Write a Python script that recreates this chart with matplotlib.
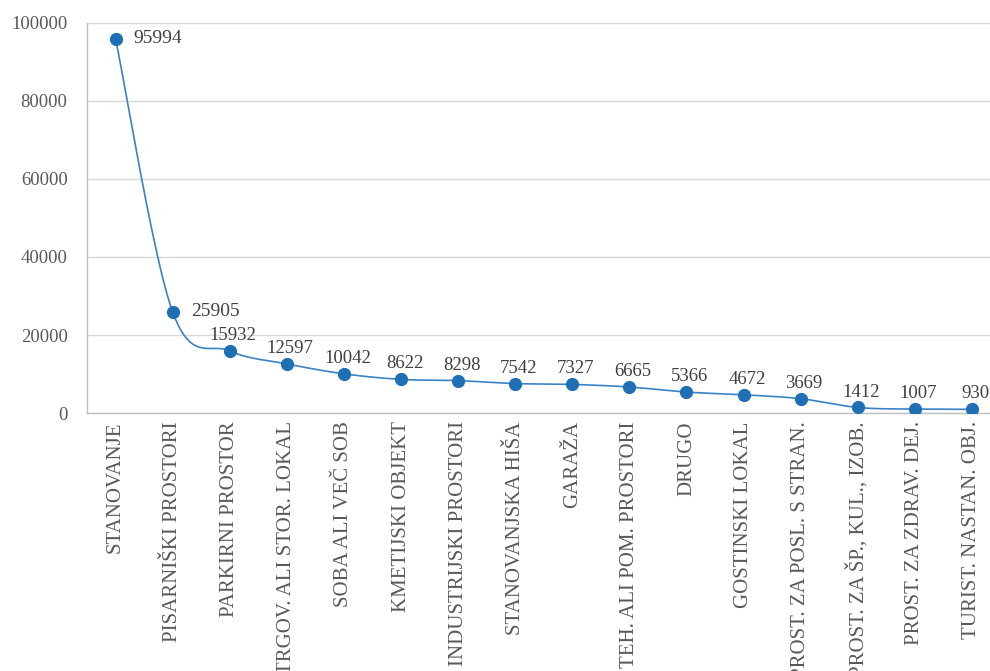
import numpy as np
import matplotlib
matplotlib.use("Agg")
import matplotlib.pyplot as plt

categories = [
    "STANOVANJE", "PISARNIŠKI PROSTORI", "PARKIRNI PROSTOR",
    "TRGOV. ALI STOR. LOKAL", "SOBA ALI VEČ SOB", "KMETIJSKI OBJEKT",
    "INDUSTRIJSKI PROSTORI", "STANOVANJSKA HIŠA", "GARAŽA",
    "TEH. ALI POM. PROSTORI", "DRUGO", "GOSTINSKI LOKAL",
    "PROST. ZA POSL. S STRAN.", "PROST. ZA ŠP., KUL., IZOB.",
    "PROST. ZA ZDRAV. DEJ.", "TURIST. NASTAN. OBJ.",
]
values = [95994, 25905, 15932, 12597, 10042, 8622, 8298, 7542, 7327,
          6665, 5366, 4672, 3669, 1412, 1007, 930]
y_ticks = [0, 20000, 40000, 60000, 80000, 100000]

plt.rcParams["font.family"] = ["Liberation Serif", "DejaVu Serif"]
text_color = "#595959"
line_color = "#3b82c4"
marker_color = "#1f6fb5"
grid_color = "#d9d9d9"

fig = plt.figure(figsize=(9.9, 6.71), dpi=100)
ax = fig.add_axes([87 / 990, 258 / 671, 913.5 / 990, 390 / 671])

x = np.arange(len(values), dtype=float)
y = np.array(values, dtype=float)


def smooth_curve(xs, ys, steps=40):
    # Bezier segments with Catmull-Rom style control points
    px, py = [], []
    n = len(xs)
    for i in range(n - 1):
        x0, y0 = xs[max(i - 1, 0)], ys[max(i - 1, 0)]
        x1, y1 = xs[i], ys[i]
        x2, y2 = xs[i + 1], ys[i + 1]
        x3, y3 = xs[min(i + 2, n - 1)], ys[min(i + 2, n - 1)]
        c1x, c1y = x1 + (x2 - x0) / 6, y1 + (y2 - y0) / 6
        c2x, c2y = x2 - (x3 - x1) / 6, y2 - (y3 - y1) / 6
        t = np.linspace(0, 1, steps)
        a = (1 - t) ** 3
        b = 3 * (1 - t) ** 2 * t
        c = 3 * (1 - t) * t ** 2
        d = t ** 3
        px.append(a * x1 + b * c1x + c * c2x + d * x2)
        py.append(a * y1 + b * c1y + c * c2y + d * y2)
    return np.concatenate(px), np.concatenate(py)


sx, sy = smooth_curve(x, y)
ax.plot(sx, sy, color=line_color, lw=1.2, zorder=3)
ax.plot(x, y, "o", color=marker_color, ms=8.5, zorder=4)

for i, v in enumerate(values):
    if i < 2:
        ax.annotate(str(v), (i, v), xytext=(13, 0), textcoords="offset points",
                    ha="left", va="center", fontsize=14, color="#404040")
    else:
        ax.annotate(str(v), (i, v), xytext=(2.5, 5), textcoords="offset points",
                    ha="center", va="bottom", fontsize=13.5, color="#404040")

ax.set_xlim(-0.5, len(values) - 0.5)
ax.set_ylim(0, 100000)
ax.set_yticks(y_ticks)
ax.set_yticklabels([str(t) for t in y_ticks])
ax.set_xticks(x)
ax.set_xticklabels(categories, rotation=90, ha="center", va="top")
ax.tick_params(axis="y", length=0, labelsize=13.5, colors=text_color, pad=14)
ax.tick_params(axis="x", length=0, labelsize=15, colors=text_color, pad=6)

ax.grid(axis="y", color=grid_color, lw=1)
ax.set_axisbelow(True)
for side in ["top", "right"]:
    ax.spines[side].set_visible(False)
for side in ["left", "bottom"]:
    ax.spines[side].set_color("#bfbfbf")
    ax.spines[side].set_linewidth(1)

fig.savefig("out.png", dpi=100)
